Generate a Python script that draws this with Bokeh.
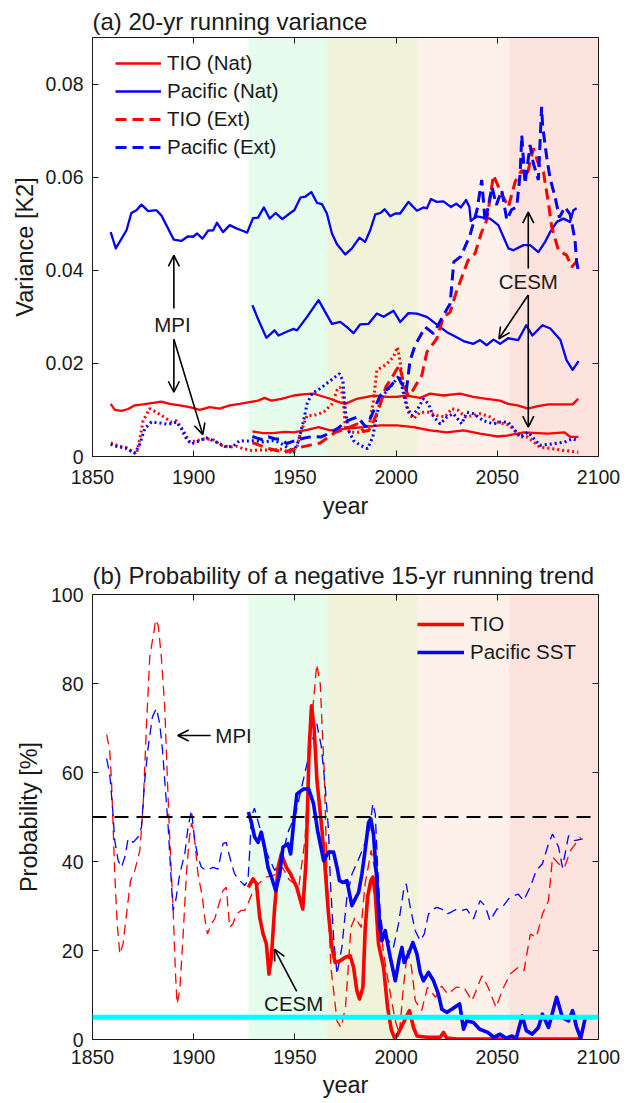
from bokeh.plotting import figure
from bokeh.models import (Range1d, LinearAxis, FixedTicker, CustomJSTickFormatter, BoxAnnotation,
                          Span, Legend, LegendItem, Arrow, OpenHead, Label)
from bokeh.layouts import column
from bokeh.embed import file_html
from bokeh.resources import INLINE

# ---------------- data: panel (a) 20-yr running variance ----------------
mpi_pac_nat_yr = [1859, 1861.5, 1866.8, 1869.2, 1871.7, 1874.2, 1877.5, 1881.6, 1884, 1886.5, 1890.1, 1893.9,
                  1897.2, 1899.7, 1901.7, 1904.3, 1907.1, 1909.6, 1911.5, 1914.5, 1917.8, 1921.1, 1923.5, 1926.4,
                  1929.3, 1931.8, 1934.7, 1937.5, 1940.5, 1943.8, 1947.7, 1949.7, 1952.7, 1955.1, 1958.1, 1960.9,
                  1963.4, 1965.8, 1968.3, 1970.8, 1973.2, 1974.9, 1978.2, 1981.9, 1984.7, 1987.2, 1989.7, 1992.2,
                  1994.3, 1997.1, 1999.6, 2002, 2006.1, 2010.3, 2013.5, 2015.2, 2017.2, 2020.1, 2023.4, 2027,
                  2029.7, 2032, 2034.6, 2036.2, 2036.9, 2039.9, 2043.1, 2046.4, 2050.5, 2053, 2055.5, 2057.9,
                  2062.9, 2066.2, 2070.3, 2073.6, 2076.1, 2079.4, 2082.7, 2085.9, 2087.6, 2089.2]
mpi_pac_nat = [0.0482, 0.0447, 0.0486, 0.0523, 0.0529, 0.0541, 0.0527, 0.0529, 0.0518, 0.0497, 0.0466, 0.0463,
               0.0473, 0.0472, 0.0479, 0.0468, 0.0485, 0.0486, 0.0502, 0.0482, 0.0497, 0.0490, 0.0486, 0.0481,
               0.0512, 0.0513, 0.0535, 0.0511, 0.0523, 0.0510, 0.0523, 0.0529, 0.0556, 0.0558, 0.0568, 0.0545,
               0.0542, 0.0522, 0.0479, 0.0456, 0.0443, 0.0434, 0.0447, 0.0470, 0.0461, 0.0486, 0.0520, 0.0523,
               0.0531, 0.0516, 0.0522, 0.0522, 0.0547, 0.0528, 0.0535, 0.0533, 0.0553, 0.0547, 0.0548, 0.0536,
               0.0543, 0.0535, 0.0551, 0.0536, 0.0506, 0.0516, 0.0513, 0.0511, 0.0497, 0.0472, 0.0447, 0.0443,
               0.0454, 0.0454, 0.0439, 0.0461, 0.0482, 0.0504, 0.0511, 0.0504, 0.0529, 0.0533]

mpi_tio_nat_yr = [1859, 1861, 1864.3, 1867.6, 1870.9, 1875, 1880, 1884, 1888.2, 1893.1, 1898, 1903, 1907.9,
                  1912.8, 1917.8, 1922.7, 1927.6, 1931.8, 1935, 1938.4, 1943.3, 1949.4, 1955, 1959.2, 1963,
                  1967.5, 1971, 1974.9, 1980.6, 1988.8, 1995.4, 2000, 2005.3, 2011.9, 2016.8, 2023.4, 2031.6,
                  2038.2, 2044.8, 2051.4, 2055.3, 2060, 2065.2, 2070, 2075.3, 2081, 2087.2, 2090]
mpi_tio_nat = [0.0113, 0.0100, 0.0098, 0.0102, 0.0110, 0.0112, 0.0115, 0.0118, 0.0113, 0.0110, 0.0106, 0.0100,
               0.0106, 0.0103, 0.0110, 0.0113, 0.0117, 0.0120, 0.0126, 0.0120, 0.0124, 0.0131, 0.0134, 0.0135,
               0.0130, 0.0124, 0.0118, 0.0113, 0.0124, 0.0131, 0.0128, 0.0128, 0.0131, 0.0126, 0.0135, 0.0131,
               0.0135, 0.0128, 0.0124, 0.0120, 0.0113, 0.0110, 0.0103, 0.0108, 0.0112, 0.0112, 0.0112, 0.0124]

cesm_pac_nat_yr = [1929, 1932, 1935.9, 1939.9, 1941.9, 1945.9, 1949.4, 1951, 1956, 1961.7, 1965, 1968.3,
                   1972.4, 1975.7, 1979, 1982.3, 1986.4, 1990.5, 1993.8, 1998.7, 2002, 2006.1, 2010.3, 2015.2,
                   2021.8, 2025.1, 2028.3, 2033.3, 2038.2, 2041.5, 2044.8, 2048.1, 2051.4, 2055.3, 2060.3,
                   2064.3, 2067.3, 2072.3, 2076.2, 2081.2, 2084.2, 2087.2, 2090.2]
cesm_pac_nat = [0.0325, 0.0293, 0.0255, 0.0271, 0.0260, 0.0268, 0.0274, 0.0271, 0.0300, 0.0336, 0.0310, 0.0285,
                0.0289, 0.0278, 0.0265, 0.0284, 0.0285, 0.0307, 0.0300, 0.0313, 0.0289, 0.0308, 0.0307, 0.0300,
                0.0278, 0.0267, 0.0260, 0.0248, 0.0242, 0.0250, 0.0239, 0.0251, 0.0242, 0.0254, 0.0250,
                0.0282, 0.0260, 0.0282, 0.0275, 0.0250, 0.0207, 0.0186, 0.0205]

cesm_tio_nat_yr = [1929, 1934.3, 1939.2, 1944.9, 1949.4, 1956, 1961.7, 1967.5, 1975.7, 1983.9, 1992.2, 2000.4,
                   2008.6, 2016.8, 2025.1, 2033.3, 2041.5, 2049.8, 2055, 2063.2, 2070, 2075, 2083.2, 2086, 2090]
cesm_tio_nat = [0.0054, 0.0050, 0.0050, 0.0053, 0.0052, 0.0057, 0.0063, 0.0056, 0.0060, 0.0063, 0.0067, 0.0067,
                0.0063, 0.0056, 0.0052, 0.0056, 0.0049, 0.0043, 0.0045, 0.0052, 0.0050, 0.0049, 0.0052, 0.0042,
                0.0042]

mpi_tio_dot_yr = [1859, 1863.5, 1866.8, 1870.1, 1871.7, 1873.4, 1875, 1878.3, 1881.6, 1884.9, 1889, 1891.5,
                  1894.8, 1898, 1901.3, 1905.4, 1909.6, 1913.7, 1917.8, 1921.1, 1924.4, 1928.5, 1934.3, 1939.2,
                  1942.8, 1947.7, 1951, 1952.7, 1956, 1959.2, 1964.2, 1968.3, 1970.8, 1972.4, 1973.7, 1974.9,
                  1977.3, 1982.3, 1986.4, 1988.8, 1990.5, 1993, 1995.4, 1998.7, 2000.7, 2002, 2003.7, 2006.1,
                  2008.6, 2011.9, 2016, 2020.1, 2024.2, 2027.5, 2030.8, 2034.1, 2038.2, 2041.5, 2046.4, 2049.8,
                  2056.3, 2061.3, 2065, 2071, 2077, 2083, 2090]
mpi_tio_dot = [0.0029, 0.0022, 0.0019, 0.0009, 0.0006, 0.0038, 0.0077, 0.0103, 0.0095, 0.0086, 0.0074, 0.0077,
               0.0056, 0.0031, 0.0034, 0.0038, 0.0036, 0.0024, 0.0020, 0.0022, 0.0017, 0.0013, 0.0014, 0.0014,
               0.0016, 0.0009, 0.0020, 0.0049, 0.0088, 0.0088, 0.0095, 0.0113, 0.0142, 0.0149, 0.0131, 0.0063,
               0.0052, 0.0052, 0.0056, 0.0120, 0.0185, 0.0192, 0.0199, 0.0214, 0.0235, 0.0203, 0.0149, 0.0095,
               0.0081, 0.0095, 0.0095, 0.0088, 0.0085, 0.0103, 0.0099, 0.0085, 0.0088, 0.0092, 0.0085, 0.0074,
               0.0067, 0.0042, 0.0042, 0.0020, 0.0017, 0.0013, 0.0009]

mpi_pac_dot_yr = [1859, 1861.8, 1866.8, 1870.9, 1873.4, 1875.8, 1879.1, 1883.2, 1887.4, 1891.5, 1893.9, 1896.4,
                  1898.9, 1903, 1906.3, 1911.2, 1916.1, 1919.4, 1922.7, 1926, 1930.1, 1934.3, 1939.2, 1942.5,
                  1946.1, 1949.4, 1951.8, 1954.3, 1956, 1958.4, 1962.5, 1966.6, 1969.9, 1972, 1973.7, 1974.9,
                  1976.5, 1979, 1982.3, 1985.9, 1988.5, 1990.5, 1993, 1996.3, 1999.6, 2001.7, 2003.3, 2005.3,
                  2007.8, 2010.3, 2013.5, 2016, 2018.5, 2021.8, 2025.1, 2028.3, 2032.4, 2034.9, 2038.2, 2043.1,
                  2048.1, 2051.4, 2055.3, 2061.3, 2065.2, 2071.1, 2077.2, 2083.2, 2087.2, 2090]
mpi_pac_dot = [0.0026, 0.0022, 0.0017, 0.0007, 0.0027, 0.0060, 0.0074, 0.0072, 0.0069, 0.0074, 0.0060, 0.0038,
               0.0027, 0.0034, 0.0040, 0.0031, 0.0020, 0.0022, 0.0034, 0.0033, 0.0034, 0.0031, 0.0034, 0.0030,
               0.0020, 0.0009, 0.0034, 0.0077, 0.0113, 0.0135, 0.0146, 0.0160, 0.0171, 0.0178, 0.0163, 0.0099,
               0.0056, 0.0034, 0.0024, 0.0017, 0.0042, 0.0092, 0.0128, 0.0146, 0.0163, 0.0174, 0.0142, 0.0106,
               0.0088, 0.0099, 0.0124, 0.0113, 0.0085, 0.0070, 0.0085, 0.0092, 0.0070, 0.0095, 0.0092, 0.0077,
               0.0070, 0.0074, 0.0074, 0.0042, 0.0052, 0.0024, 0.0027, 0.0031, 0.0038, 0.0034]

cesm_tio_ext_yr = [1929, 1932, 1935, 1938, 1942, 1945, 1949, 1953, 1958, 1962.5, 1966, 1970, 1974, 1977, 1981,
                   1984, 1986.5, 1989, 1992, 1995, 1998, 2000, 2001.6, 2004, 2006, 2008, 2010, 2012.7, 2015.2,
                   2020.1, 2023.4, 2026.7, 2029.5, 2031.6, 2035.5, 2039, 2042, 2044.8, 2048.1, 2051.3, 2055.5,
                   2058.8, 2062.1, 2064.5, 2067.8, 2070.3, 2072.8, 2075.3, 2076.9, 2080.2, 2084.3, 2086.7, 2089.2]
cesm_tio_ext = [0.0030, 0.0025, 0.0020, 0.0016, 0.0012, 0.0009, 0.0015, 0.0020, 0.0025, 0.0029, 0.0040, 0.0052,
                0.0058, 0.0063, 0.0070, 0.0054, 0.0056, 0.0077, 0.0110, 0.0150, 0.0170, 0.0185, 0.0196, 0.0154,
                0.0130, 0.0140, 0.0155, 0.0174, 0.0224, 0.0253, 0.0300, 0.0310, 0.0350, 0.0375, 0.0421, 0.0436,
                0.0479, 0.0508, 0.0604, 0.0572, 0.0536, 0.0590, 0.0615, 0.0600, 0.0662, 0.0629, 0.0611, 0.0543,
                0.0493, 0.0443, 0.0432, 0.0407, 0.0418]

cesm_pac_ext_yr = [1929, 1931, 1934, 1937, 1940, 1943, 1946, 1950, 1955, 1959, 1963, 1967, 1971, 1976, 1981,
                   1985, 1987, 1992, 1997, 2001, 2005, 2006.9, 2009.4, 2014.4, 2018.5, 2024.2, 2026.7, 2028.5,
                   2032, 2036.5, 2040, 2042.3, 2044, 2047.4, 2049.5, 2052.2, 2054.7, 2057, 2059.6, 2061.3,
                   2062.1, 2063.7, 2066.2, 2067.8, 2070.3, 2071.9, 2072.4, 2074.4, 2076.1, 2078.5, 2080.7,
                   2083.4, 2086, 2088.4, 2089.2, 2090]
cesm_pac_ext = [0.0043, 0.0040, 0.0036, 0.0042, 0.0038, 0.0037, 0.0028, 0.0034, 0.0040, 0.0043, 0.0042, 0.0050,
                0.0060, 0.0077, 0.0085, 0.0063, 0.0079, 0.0130, 0.0150, 0.0170, 0.0140, 0.0206, 0.0239, 0.0278,
                0.0264, 0.0310, 0.0328, 0.0418, 0.0430, 0.0475, 0.0530, 0.0594, 0.0503, 0.0579, 0.0540, 0.0572,
                0.0508, 0.0530, 0.0536, 0.0608, 0.0690, 0.0586, 0.0669, 0.0630, 0.0594, 0.0751, 0.0710, 0.0643,
                0.0597, 0.0558, 0.0513, 0.0536, 0.0520, 0.0465, 0.0418, 0.0400]

# ---------------- data: panel (b) probability of negative 15-yr trend ----------------
mpi_tio_p_yr = [1857, 1858.5, 1859.4, 1860.2, 1861, 1862.2, 1863.5, 1865.1, 1866.8, 1868.8, 1870.9, 1873.4,
                1875, 1876.7, 1878.3, 1880.3, 1881.2, 1882.5, 1884, 1885.7, 1886.9, 1888.2, 1889.8, 1891,
                1891.8, 1893.1, 1894.8, 1896.4, 1897.7, 1898.9, 1900, 1902.1, 1904.3, 1905.4, 1906.8, 1908.7,
                1910.4, 1912, 1914.5, 1916.1, 1917.8, 1919.4, 1921.1, 1923.5, 1925.2, 1926.8, 1929, 1932,
                1935.9, 1940, 1943.8, 1947, 1951.9, 1955, 1958, 1960.8, 1962.5, 1964.5, 1966, 1967.8, 1970.8,
                1972.8, 1975, 1977.7, 1979.7, 1982.7, 1984.7, 1987.7, 1990.7, 1993.6, 1996.6, 1999.6, 2001.6,
                2003.6, 2005.6, 2007.6, 2009.5, 2012.6, 2015.5, 2019.5, 2022.5, 2025.5, 2029.5, 2033.5, 2037.5,
                2042.4, 2045.5, 2049.4, 2052.4, 2056.3, 2060.3, 2063.2, 2066.3, 2069.3, 2072.3, 2075.3,
                2077.3, 2080.3, 2083.2, 2086.2, 2091.2]
mpi_tio_p = [68.5, 65, 58, 47.7, 37.2, 26, 19.2, 21.5, 28.2, 35.7, 38, 42.5,
             52.2, 71, 86, 91.5, 94.3, 93, 86, 74.7, 59.7, 44.7, 29.7, 14.7,
             8, 11, 23.7, 37.2, 44.7, 48.6, 47, 37.2, 32, 27.5, 23.7, 26,
             27.1, 29.7, 33.5, 34.2, 25.2, 26, 28.2, 29, 29, 30.5, 33, 35,
             36.5, 37, 38.7, 36, 34.2, 45, 70, 84.3, 80, 60, 35, 16.2, 4.2,
             2.7, 7.2, 25.2, 27.5, 25.2, 35, 42.5, 35, 20, 11.7, 4.2, 1.3,
             11.7, 20, 16.2, 8.7, 6.5, 11.7, 9.5, 12, 10.2, 11.7, 11.7, 8.7,
             14.3, 11.7, 7.2, 11, 14.7, 16.2, 15.5, 23.7, 23, 28.2, 31.2,
             41, 39.5, 38.7, 42.5, 45.5]

mpi_pac_p_yr = [1857, 1858.5, 1859.9, 1861, 1862.7, 1864.3, 1866, 1867.6, 1870.1, 1872.5, 1874.2, 1875.8,
                1877.5, 1879.6, 1881.6, 1883.2, 1884.6, 1885.7, 1887.4, 1888.7, 1889.8, 1891.1, 1893.1, 1895.6,
                1897.2, 1898.9, 1900.5, 1902.1, 1903.8, 1906.3, 1909.6, 1912, 1914.5, 1916.1, 1917.8, 1920.2,
                1922.7, 1925.2, 1926.8, 1927.6, 1928.5, 1930, 1933, 1936, 1940, 1943, 1946.9, 1950, 1954, 1958,
                1960.8, 1963, 1965, 1966.6, 1967.5, 1969.1, 1970.8, 1973.2, 1975.7, 1978.2, 1981, 1983.9,
                1986.9, 1988.5, 1989.7, 1990.8, 1992.2, 1993.8, 1996.3, 1998.7, 2001.2, 2003.7, 2005, 2007,
                2009.4, 2011.9, 2013.9, 2016, 2018.5, 2020.1, 2022.6, 2025.1, 2027.5, 2030, 2032.4, 2034.9,
                2038.2, 2041.5, 2044, 2046.4, 2049.8, 2052.4, 2056.3, 2060.3, 2063, 2066.2, 2069.3, 2072.3,
                2075.3, 2077.3, 2080.3, 2082.2, 2085.2, 2088.2, 2092.2]
mpi_pac_p = [63.1, 59.7, 52.2, 44.7, 40.2, 38.7, 41, 45.1, 44.3, 45.5, 47.7, 58.2,
             65.7, 72.5, 74.4, 71, 65, 58.2, 47.7, 37.2, 29, 31.2, 37.2, 41.7,
             47.7, 51.5, 44.7, 41, 38.7, 38, 38.7, 38.3, 44, 44.3, 41, 37.2,
             35.7, 34.6, 35.7, 41.7, 50, 52, 47, 42, 38, 40, 47, 50, 58, 66,
             71, 66, 56.7, 47, 35.7, 23, 14.7, 20.7, 32, 37.2, 40, 43.2,
             47, 53, 50.7, 39.5, 28.2, 23, 22.2, 20.7, 26, 33.5, 35, 29.7,
             24.5, 22.2, 23.7, 28.2, 29.3, 29.7, 29.3, 28.2, 28.7, 29.3, 29, 29.3,
             27.1, 31.2, 30, 26.7, 29.3, 29.7, 32, 32.7, 31.2, 34.2, 38, 39.5,
             44, 46.2, 43.2, 38.7, 45.8, 44.7, 45.1]

cesm_tio_p_yr = [1927, 1929.3, 1931, 1932.6, 1934.3, 1935.9, 1937.2, 1938.4, 1940, 1941.7, 1943.3, 1945.8,
                 1947.9, 1950.9, 1953.9, 1955.5, 1957, 1958.2, 1959.5, 1960.9, 1963.4, 1965, 1966.6, 1968.3,
                 1969.9, 1972.4, 1974.9, 1977.3, 1979, 1980.6, 1981.9, 1983.6, 1984.7, 1985.9, 1987.5, 1988.5,
                 1989.7, 1991.3, 1993.8, 1995.8, 1997.6, 1999.1, 2000.4, 2002.9, 2005.3, 2006.6, 2008.6, 2010.3,
                 2015.2, 2021.8, 2023.4, 2025, 2030, 2040, 2050, 2060, 2070, 2080, 2092]
cesm_tio_p = [34.2, 36.1, 35, 27.5, 23.7, 21.5, 14.7, 18.5, 29.7, 38.7, 41.7, 38.7,
              37.2, 34.2, 29.3, 40, 65, 75, 70, 58.2, 47, 38, 28.2, 20.7,
              17.3, 17.7, 18.5, 18.8, 16.2, 11, 9.1, 11.7, 24.5, 32, 35.7, 36.5,
              32.7, 21.5, 16.2, 7.2, 2.3, 0.5, 0.8, 3.1, 5.3, 6.5, 2.7, 0.8,
              0.5, 0.5, 1.6, 0.3, 0.1, 0.1, 0.1, 0.1, 0.1, 0.1, 0.1]

cesm_pac_p_yr = [1927, 1928.5, 1930.1, 1931.8, 1933.4, 1935, 1936.7, 1938.4, 1940.5, 1942.5, 1944.1, 1946.6,
                 1947.9, 1949.5, 1951, 1954.3, 1956.8, 1959.2, 1961.2, 1962.5, 1964.2, 1966.6, 1969.1, 1970.8,
                 1972, 1973.7, 1975.7, 1977.3, 1978.2, 1979.8, 1981.5, 1983.1, 1984.7, 1986.4, 1987.5, 1988.8,
                 1990.5, 1991.8, 1993, 1994.6, 1997.1, 1999.6, 2001.7, 2002.9, 2004, 2006.1, 2008.3, 2010.3,
                 2011.9, 2013.5, 2016, 2018.5, 2020.9, 2022.6, 2025, 2027.5, 2030, 2031.4, 2033.3, 2034.9,
                 2038.2, 2041.3, 2045.3, 2048.3, 2051.4, 2054.4, 2057.3, 2059.3, 2062.3, 2064.3, 2067.3,
                 2070.3, 2072.3, 2075.3, 2079.3, 2082.2, 2085.2, 2087.2, 2089.2, 2091.2, 2093.5]
cesm_pac_p = [51.1, 48.8, 45.5, 44.3, 46.6, 43.2, 38.7, 36.5, 33.5, 37.2, 43.2, 44,
              41.7, 49.2, 55.2, 56.3, 56.3, 53, 47, 44, 40.2, 42.1, 42.1, 38.7,
              35.7, 35.3, 35.7, 32, 30.1, 31.6, 33.1, 37.2, 42.5, 48.8, 49.6, 46.2,
              35.7, 26, 22.2, 24.5, 18.5, 13.2, 18.5, 20.7, 17.3, 19.2, 21.8, 19.2,
              15.1, 13.2, 15.1, 13.2, 10.2, 6.8, 6.1, 6.8, 7.6, 8, 2.3, 4.2,
              3.8, 2.3, 1.6, 0.5, 1.2, 0.3, 0.8, 0.2, 5.3, 2, 1.2,
              2.7, 5.7, 2.7, 9.5, 4.9, 4.2, 6.5, 2.7, 0.3, 4.9]

period_edges = [1927, 1966, 2011, 2056, 2100]
period_colors = ["#e6fcec", "#f1f2da", "#fef1ea", "#fde3de"]
half_level = 50
sig_level = 5
x_ticks = [1850, 1900, 1950, 2000, 2050, 2100]
ya_ticks = [0, 0.02, 0.04, 0.06, 0.08]
yb_ticks = [0, 20, 40, 60, 80, 100]

FONT = "Liberation Sans"
INK = "#1a1a1a"
RED = "#ff0000"
BLUE = "#0000ff"


def style_axis(ax):
    ax.major_tick_in = 6
    ax.major_tick_out = 0
    ax.minor_tick_line_color = None
    ax.axis_line_color = INK
    ax.major_tick_line_color = INK
    ax.major_label_text_font = FONT
    ax.major_label_text_font_size = "19.5px"
    ax.major_label_text_color = INK
    ax.axis_label_text_font = FONT
    ax.axis_label_text_font_size = "23.5px"
    ax.axis_label_text_font_style = "normal"
    ax.axis_label_text_color = INK


def make_fig(height, top, bottom, ymax, yticks, ylabel, ylab_s, title, title_s, s1, s2, yfmt=None):
    p = figure(width=630, height=height, x_range=Range1d(1850, 2100), y_range=Range1d(0, ymax),
               output_backend="svg", toolbar_location=None, tools="",
               min_border_left=92, min_border_right=32, min_border_top=top, min_border_bottom=bottom)
    p.title.text = title
    p.title.text_font = FONT
    p.title.text_font_size = "24px"
    p.title.text_font_style = "normal"
    p.title.text_color = INK
    p.title.align = "left"
    p.title.standoff = title_s
    p.outline_line_color = None
    p.xgrid.visible = False
    p.ygrid.visible = False
    bottom_ax = p.below[0]
    left_ax = p.left[0]
    top_ax = LinearAxis()
    right_ax = LinearAxis()
    p.add_layout(top_ax, "above")
    p.add_layout(right_ax, "right")
    for ax in (bottom_ax, top_ax):
        ax.ticker = FixedTicker(ticks=x_ticks)
    for ax in (left_ax, right_ax):
        ax.ticker = FixedTicker(ticks=yticks)
    if yfmt is not None:
        left_ax.formatter = yfmt
    for ax in (bottom_ax, top_ax, left_ax, right_ax):
        style_axis(ax)
    bottom_ax.major_label_standoff = s1
    bottom_ax.axis_label = "year"
    bottom_ax.axis_label_standoff = s2
    left_ax.major_label_standoff = 9
    left_ax.axis_label = ylabel
    left_ax.axis_label_standoff = ylab_s
    for ax in (top_ax, right_ax):
        ax.major_label_text_font_size = "1px"
        ax.major_label_text_color = None
        ax.major_label_standoff = 0
    for i, col in enumerate(period_colors):
        p.add_layout(BoxAnnotation(left=period_edges[i], right=period_edges[i + 1], fill_color=col,
                                   fill_alpha=1.0, line_color=None, level="underlay"))
    return p


def arrow(p, x0, y0, x1, y1):
    p.add_layout(Arrow(x_start=x0, y_start=y0, x_end=x1, y_end=y1, line_color="black", line_width=1.6,
                       end=OpenHead(size=11, line_color="black", line_width=1.6)))


def label(p, x, y, text, align="center"):
    p.add_layout(Label(x=x, y=y, text=text, text_font=FONT, text_font_size="20.5px", text_color=INK,
                       text_align=align, text_baseline="middle"))


# ---------------- panel (a) ----------------
pa = make_fig(544, 37, 88, 0.09, ya_ticks, "Variance [K2]", 5, "(a) 20-yr running variance", 6, 13, 6,
              CustomJSTickFormatter(code="return tick == 0 ? '0' : tick.toFixed(2);"))

r_tio_nat = pa.line(mpi_tio_nat_yr, mpi_tio_nat, line_color=RED, line_width=2.3, line_join="round")
pa.line(cesm_tio_nat_yr, cesm_tio_nat, line_color=RED, line_width=2.3, line_join="round")
r_pac_nat = pa.line(mpi_pac_nat_yr, mpi_pac_nat, line_color=BLUE, line_width=2.3, line_join="round")
pa.line(cesm_pac_nat_yr, cesm_pac_nat, line_color=BLUE, line_width=2.3, line_join="round")
pa.line(mpi_tio_dot_yr, mpi_tio_dot, line_color=RED, line_width=3, line_dash="2 3")
pa.line(mpi_pac_dot_yr, mpi_pac_dot, line_color=BLUE, line_width=3, line_dash="2 3")
r_tio_ext = pa.line(cesm_tio_ext_yr, cesm_tio_ext, line_color=RED, line_width=3, line_dash="11 6")
r_pac_ext = pa.line(cesm_pac_ext_yr, cesm_pac_ext, line_color=BLUE, line_width=3, line_dash="11 6")

leg_a = Legend(items=[LegendItem(label="TIO (Nat)", renderers=[r_tio_nat]),
                      LegendItem(label="Pacific (Nat)", renderers=[r_pac_nat]),
                      LegendItem(label="TIO (Ext)", renderers=[r_tio_ext]),
                      LegendItem(label="Pacific (Ext)", renderers=[r_pac_ext])],
               location=(23, 297), glyph_width=46, glyph_height=22, label_height=22, spacing=4,
               label_standoff=6, padding=0, margin=0, border_line_color=None, background_fill_alpha=0,
               label_text_font=FONT, label_text_font_size="20.5px", label_text_color=INK)
pa.add_layout(leg_a)

label(pa, 1889.5, 0.0283, "MPI")
arrow(pa, 1890.2, 0.0318, 1890.2, 0.0432)
arrow(pa, 1890.2, 0.0252, 1890.2, 0.0138)
arrow(pa, 1890.2, 0.0252, 1904.5, 0.0047)
label(pa, 2065.3, 0.0376, "CESM")
arrow(pa, 2065.3, 0.0404, 2065.3, 0.0525)
arrow(pa, 2065.3, 0.0347, 2065.3, 0.0063)
arrow(pa, 2065.3, 0.0347, 2050.8, 0.0253)

# ---------------- panel (b) ----------------
pb = make_fig(559, 50, 64, 100, yb_ticks, "Probability [%]", 6,
              "(b) Probability of a negative 15-yr running trend", 11, 10, 5)

pb.line(mpi_tio_p_yr, mpi_tio_p, line_color=RED, line_width=1.3, line_dash="10 6")
pb.line(mpi_pac_p_yr, mpi_pac_p, line_color=BLUE, line_width=1.3, line_dash="10 6")
r_tio_b = pb.line(cesm_tio_p_yr, cesm_tio_p, line_color=RED, line_width=3.6, line_join="round")
r_pac_b = pb.line(cesm_pac_p_yr, cesm_pac_p, line_color=BLUE, line_width=3.6, line_join="round")
pb.add_layout(Span(location=half_level, dimension="width", line_color="black", line_width=2.2,
                   line_dash="14 8"))
pb.add_layout(Span(location=sig_level, dimension="width", line_color="#00ffff", line_width=5))

leg_b = Legend(items=[LegendItem(label="TIO", renderers=[r_tio_b]),
                      LegendItem(label="Pacific SST", renderers=[r_pac_b])],
               location=(325, 375), glyph_width=47, glyph_height=22, label_height=22, spacing=4,
               label_standoff=6, padding=0, margin=0, border_line_color=None, background_fill_alpha=0,
               label_text_font=FONT, label_text_font_size="20.5px", label_text_color=INK)
pb.add_layout(leg_b)

label(pb, 1910.7, 68.3, "MPI", align="left")
arrow(pb, 1908.4, 68.3, 1892.1, 68.3)
label(pb, 1949.4, 8.0, "CESM")
arrow(pb, 1950.9, 10.8, 1939.9, 20.3)

layout = column(pa, pb, spacing=0)
open("out.html", "w").write(file_html(layout, INLINE))
